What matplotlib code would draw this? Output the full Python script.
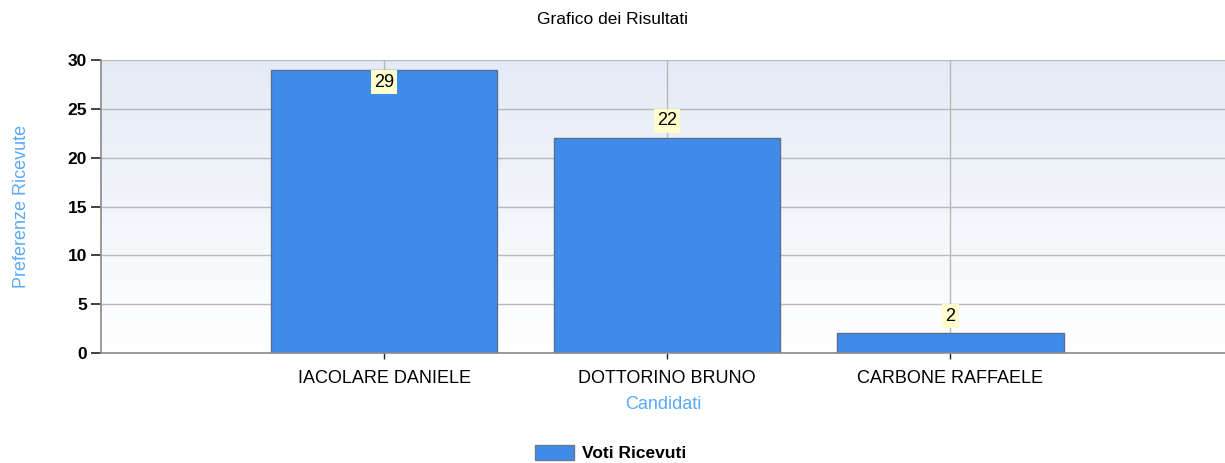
import numpy as np
import matplotlib.pyplot as plt
from matplotlib.patches import Patch
from matplotlib.colors import LinearSegmentedColormap

plt.rcParams['font.family'] = ['Liberation Sans', 'DejaVu Sans']

candidati = ['IACOLARE DANIELE', 'DOTTORINO BRUNO', 'CARBONE RAFFAELE']
voti = [29, 22, 2]
y_ticks = [0, 5, 10, 15, 20, 25, 30]

bar_color = '#3f8bea'
label_blue = '#5aaaf5'

fig = plt.figure(figsize=(12.25, 4.63), dpi=100)
ax = fig.add_axes([101 / 1225, 1 - 353 / 463, 1 - 101 / 1225, (353 - 60) / 463])

x = np.arange(1, len(candidati) + 1)
ax.set_xlim(0, 3.97)
ax.set_ylim(0, 30)

# background gradient, light blue at the top fading to white
grad = np.linspace(0, 1, 256).reshape(-1, 1)
bg = LinearSegmentedColormap.from_list('bg', ['#ffffff', '#e4ebf6'])
ax.imshow(grad, extent=[0, 3.97, 0, 30], aspect='auto', origin='lower',
          cmap=bg, zorder=0)

ax.grid(True, color='#b8b8b8', linewidth=1, zorder=1)
ax.set_axisbelow(True)

ax.bar(x, voti, width=0.8, color=bar_color, edgecolor='#5b6f8c',
       linewidth=1, zorder=2)

for xi, v in zip(x, voti):
    if v >= 28:
        ypos, va = v - 0.4, 'top'
    else:
        ypos, va = v + 0.9, 'bottom'
    ax.text(xi, ypos, str(v), ha='center', va=va, fontsize=13, color='black',
            bbox=dict(boxstyle='square,pad=0.18', facecolor='#ffffcc',
                      edgecolor='none'), zorder=4)

ax.set_xticks(x)
ax.set_xticklabels(candidati, fontsize=13)
ax.set_yticks(y_ticks)
ax.set_yticklabels([str(t) for t in y_ticks], fontsize=12.5, fontweight='bold')
ax.tick_params(axis='y', direction='out', length=7, width=1.2, color='#222222', pad=3)
ax.tick_params(axis='x', direction='out', length=4, width=1, color='#222222', pad=8)

for s in ['top', 'right']:
    ax.spines[s].set_visible(False)
for s in ['left', 'bottom']:
    ax.spines[s].set_color('#8a8a8a')
    ax.spines[s].set_linewidth(1.2)

ax.set_xlabel('Candidati', fontsize=13, color=label_blue, labelpad=7)
ax.set_ylabel('Preferenze Ricevute', fontsize=13, color=label_blue, labelpad=27)

fig.text(0.5, 1 - 20 / 463, 'Grafico dei Risultati', ha='center', va='center',
         fontsize=12.5, color='black')

handles = [Patch(facecolor=bar_color, edgecolor='#6a7a90', label='Voti Ricevuti')]
fig.legend(handles=handles, loc='center', bbox_to_anchor=(611 / 1225, 1 - 453 / 463),
           frameon=False, prop={'weight': 'bold', 'size': 12.5},
           handlelength=2.2, handleheight=1.0, handletextpad=0.5)

fig.savefig('out.png', dpi=100)
